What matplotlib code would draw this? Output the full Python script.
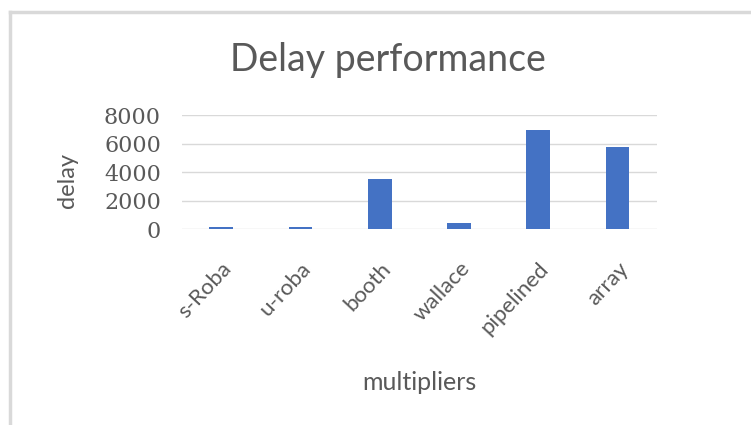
import matplotlib.pyplot as plt
from matplotlib.lines import Line2D

multipliers = ['s-Roba', 'u-roba', 'booth', 'wallace', 'pipelined', 'array']
delay = [180, 180, 3550, 460, 7000, 5780]
yticks = [0, 2000, 4000, 6000, 8000]

fig = plt.figure(figsize=(7.51, 4.25), dpi=100)
ax = fig.add_axes([0.242, 0.4605, 0.633, 0.2682])

ax.bar(range(len(delay)), delay, width=0.3, color='#4472c4', zorder=3)
ax.set_xlim(-0.5, len(delay) - 0.5)
ax.set_ylim(0, 8000)
ax.set_yticks(yticks)
ax.set_yticklabels([str(v) for v in yticks], family='DejaVu Serif',
                   fontsize=16, color='#595959')
ax.set_xticks(range(len(multipliers)))
ax.set_xticklabels(multipliers, rotation=47, ha='right', rotation_mode='anchor',
                   family='Lato', fontsize=16, color='#595959')
ax.tick_params(length=0, axis='y', pad=15)
ax.tick_params(length=0, axis='x', pad=21)
ax.grid(axis='y', color='#d9d9d9', linewidth=1, zorder=0)
for s in ax.spines.values():
    s.set_visible(False)

fig.text(0.09, 0.576, 'delay', family='Lato', fontsize=17, color='#595959',
         rotation=90, ha='center', va='center')
fig.text(0.559, 0.099, 'multipliers', family='Lato', fontsize=18,
         color='#595959', ha='center', va='center')
fig.text(0.516, 0.859, 'Delay performance', family='Lato', fontsize=27,
         color='#595959', ha='center', va='center')

# chart frame (top and left edges only)
fig.add_artist(Line2D([0.013, 1.0], [0.9715, 0.9715], color='#d9d9d9', linewidth=2.5))
fig.add_artist(Line2D([0.0133, 0.0133], [0.0, 0.9715], color='#d9d9d9', linewidth=2.5))

fig.savefig('out.png', dpi=100)
